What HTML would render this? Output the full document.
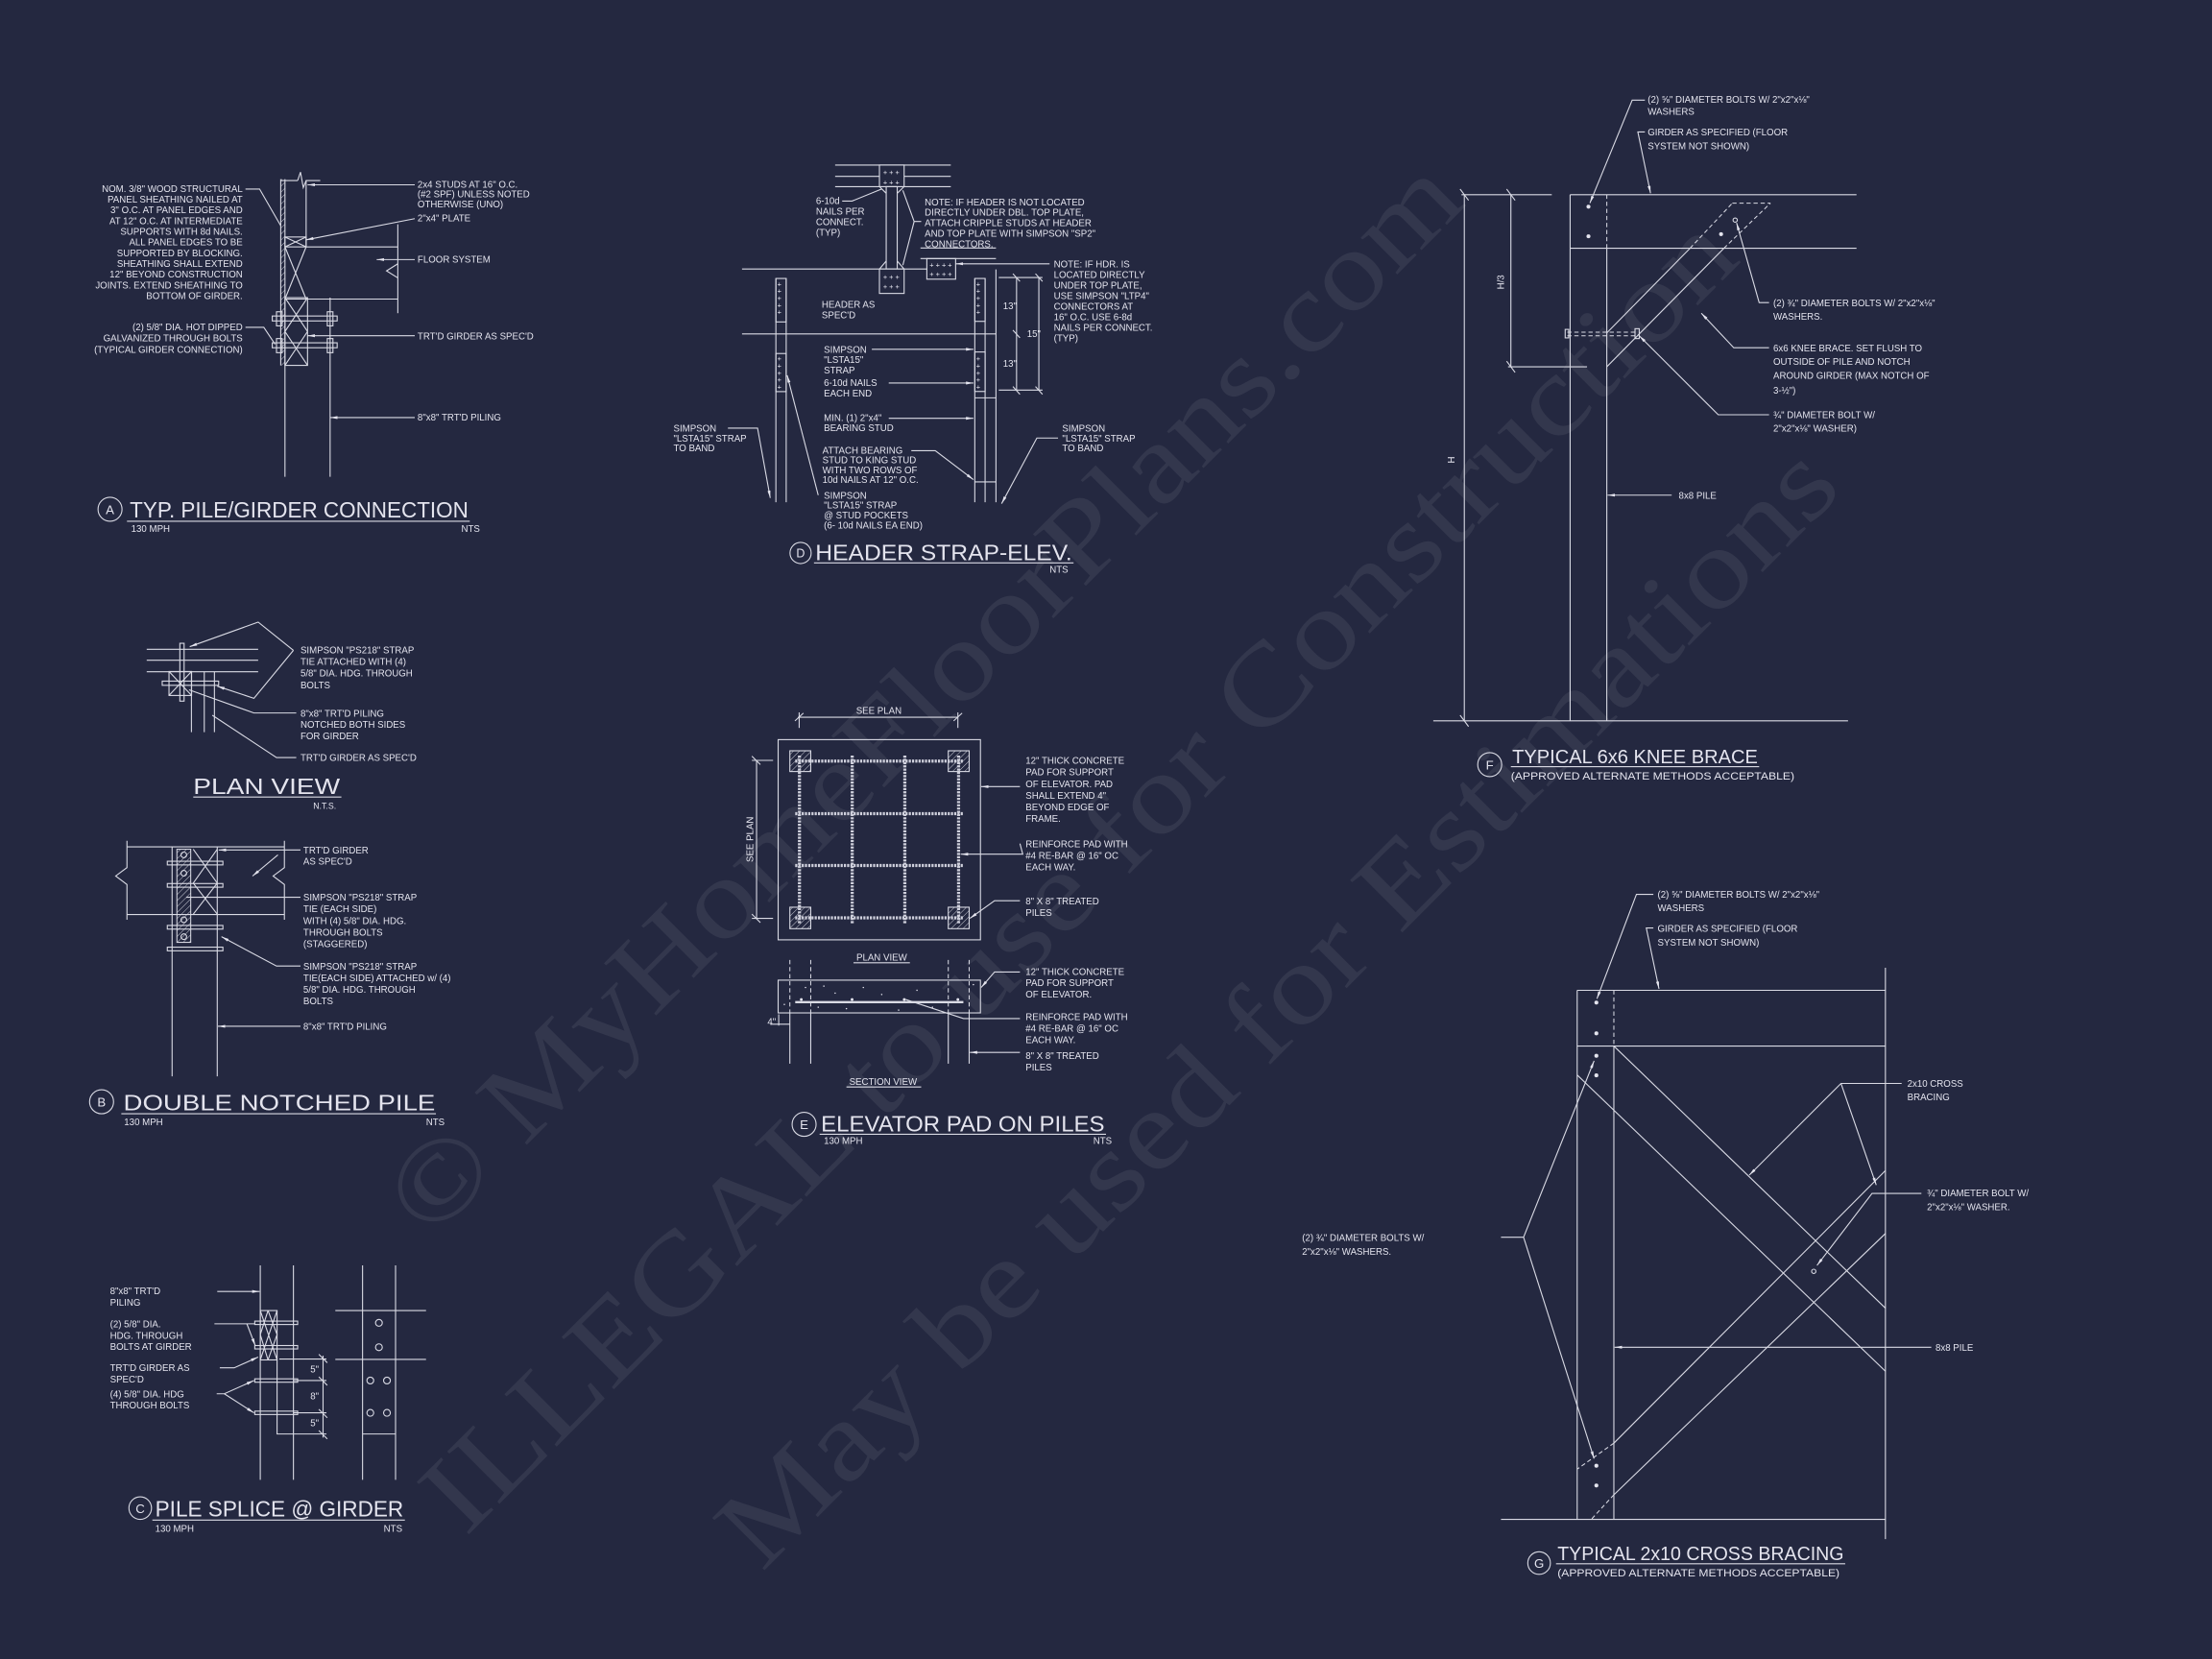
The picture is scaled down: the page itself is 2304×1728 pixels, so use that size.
<!DOCTYPE html>
<html><head><meta charset="utf-8">
<style>
html,body{margin:0;padding:0;background:#242840;}
svg{display:block;}
.l{stroke:#d9dae4;stroke-width:0.75;fill:none;}
.d{stroke:#d9dae4;stroke-width:0.7;fill:none;stroke-dasharray:3 2;}
.t{font-family:"Liberation Sans","DejaVu Sans",sans-serif;font-size:6.6px;fill:#e4e4ee;}
.T{font-family:"Liberation Sans","DejaVu Sans",sans-serif;font-size:16px;fill:#e4e4ee;font-weight:normal;}
.w{font-family:"Liberation Serif","DejaVu Serif",serif;font-size:80px;fill:#ffffff;fill-opacity:0.07;}
.dot{fill:#e4e4ee;}
</style></head>
<body>
<svg width="2304" height="1728" viewBox="0 0 1568 1176" xmlns="http://www.w3.org/2000/svg">
<defs>
<marker id="a" viewBox="0 0 10 10" refX="10" refY="5" markerWidth="7" markerHeight="7" orient="auto-start-reverse"><path d="M0,3 L10,5 L0,7 z" fill="#e4e4ee"/></marker>
<pattern id="h" width="3" height="3" patternUnits="userSpaceOnUse" patternTransform="rotate(45)"><line x1="0" y1="0" x2="0" y2="3" stroke="#d9dae4" stroke-width="0.6"/></pattern>
</defs>
<rect width="1568" height="1176" fill="#242840"/>

<!-- watermark -->
<text class="w" x="305" y="880" transform="rotate(-45 305 880)" textLength="1040" lengthAdjust="spacingAndGlyphs">© MyHomeFloorPlans.com</text>
<text class="w" x="330" y="1090" transform="rotate(-45 330 1090)" textLength="1280" lengthAdjust="spacingAndGlyphs">ILLEGAL to use for Construction</text>
<text class="w" x="540" y="1115" transform="rotate(-45 540 1115)" textLength="1085" lengthAdjust="spacingAndGlyphs">May be used for Estimations</text>

<!-- ===== DETAIL A ===== -->
<g>
<line class="l" x1="202" y1="127" x2="202" y2="338"/>
<line class="l" x1="234" y1="211" x2="234" y2="338"/>
<line class="l" x1="199" y1="127" x2="199" y2="259"/>
<rect x="199" y="127" width="3" height="132" fill="url(#h)"/>
<line class="l" x1="199" y1="128" x2="211" y2="128"/>
<path class="l" d="M211,128 L213,122 L215,133 L217,128 L227,128"/>
<line class="l" x1="217" y1="128" x2="217" y2="175"/>
<rect class="l" x="202" y="168" width="15" height="7"/>
<path class="l" d="M202,168 L217,175 M217,168 L202,175"/>
<line class="l" x1="217" y1="175" x2="282" y2="175"/>
<line class="l" x1="282" y1="159" x2="282" y2="222"/>
<path class="l" d="M282,187 L274,192 L282,197"/>
<line class="l" x1="202" y1="212" x2="282" y2="212"/>
<path class="l" d="M202,175 L217,212 M217,175 L202,212"/>
<rect class="l" x="202" y="211" width="16" height="48"/>
<path class="l" d="M202,211 L218,235 L202,259 M218,211 L202,235 L218,259"/>
<rect class="l" x="193" y="224" width="46" height="3.5"/>
<rect class="l" x="193" y="243" width="46" height="3.5"/>
<rect class="l" x="196" y="221" width="4" height="10"/><rect class="l" x="232" y="221" width="4" height="10"/>
<rect class="l" x="196" y="240" width="4" height="10"/><rect class="l" x="232" y="240" width="4" height="10"/>
<text class="t" text-anchor="end"><tspan x="172" y="136">NOM. 3/8" WOOD STRUCTURAL</tspan><tspan x="172" y="143.6">PANEL SHEATHING NAILED AT</tspan><tspan x="172" y="151.2">3" O.C. AT PANEL EDGES AND</tspan><tspan x="172" y="158.8">AT 12" O.C. AT INTERMEDIATE</tspan><tspan x="172" y="166.4">SUPPORTS WITH 8d NAILS.</tspan><tspan x="172" y="174">ALL PANEL EDGES TO BE</tspan><tspan x="172" y="181.6">SUPPORTED BY BLOCKING.</tspan><tspan x="172" y="189.2">SHEATHING SHALL EXTEND</tspan><tspan x="172" y="196.8">12" BEYOND CONSTRUCTION</tspan><tspan x="172" y="204.4">JOINTS. EXTEND SHEATHING TO</tspan><tspan x="172" y="212">BOTTOM OF GIRDER.</tspan></text>
<path class="l" d="M174,134 L184,134 L199,160"/>
<text class="t" text-anchor="end"><tspan x="172" y="234">(2) 5/8" DIA. HOT DIPPED</tspan><tspan x="172" y="242">GALVANIZED THROUGH BOLTS</tspan><tspan x="172" y="250">(TYPICAL GIRDER CONNECTION)</tspan></text>
<path class="l" d="M174,232 L187,232 L195,244"/>
<text class="t"><tspan x="296" y="133">2x4 STUDS AT 16" O.C.</tspan><tspan x="296" y="140">(#2 SPF) UNLESS NOTED</tspan><tspan x="296" y="147">OTHERWISE (UNO)</tspan><tspan x="296" y="157">2"x4" PLATE</tspan><tspan x="296" y="186">FLOOR SYSTEM</tspan><tspan x="296" y="240.5">TRT'D GIRDER AS SPEC'D</tspan><tspan x="296" y="298">8"x8" TRT'D PILING</tspan></text>
<line class="l" x1="294" y1="131" x2="218" y2="131" marker-end="url(#a)"/>
<path class="l" d="M294,155 L217,170" marker-end="url(#a)"/>
<line class="l" x1="294" y1="184" x2="267" y2="184" marker-end="url(#a)"/>
<line class="l" x1="294" y1="238" x2="218" y2="238" marker-end="url(#a)"/>
<line class="l" x1="294" y1="296" x2="234" y2="296" marker-end="url(#a)"/>
<circle class="l" cx="78" cy="361" r="8.5"/>
<text class="t" x="78" y="364.5" text-anchor="middle" style="font-size:9px">A</text>
<text class="T" x="92" y="367" textLength="240" lengthAdjust="spacingAndGlyphs">TYP. PILE/GIRDER CONNECTION</text>
<line class="l" x1="90" y1="369.5" x2="333" y2="369.5"/>
<text class="t" x="93" y="377">130 MPH</text><text class="t" x="327" y="377">NTS</text>
</g>

<!-- ===== DETAIL B ===== -->
<g>
<line class="l" x1="104" y1="460.3" x2="183" y2="460.3"/>
<line class="l" x1="104" y1="468" x2="183" y2="468"/>
<line class="l" x1="104" y1="476.2" x2="183" y2="476.2"/>
<rect class="l" x="127.5" y="456" width="3" height="41"/>
<rect class="l" x="115" y="482.8" width="40" height="3"/>
<rect class="l" x="119.8" y="476" width="16" height="17"/>
<path class="l" d="M119.8,476 L135.8,493 M135.8,476 L119.8,493"/>
<line class="l" x1="135.7" y1="476" x2="135.7" y2="519"/>
<line class="l" x1="144.8" y1="476" x2="144.8" y2="519"/>
<line class="l" x1="152" y1="476" x2="152" y2="519"/>
<path class="l" d="M208,461 L183,441 L134.5,458.4" marker-end="url(#a)"/>
<path class="l" d="M208,461 L180,495 L154,486.4" marker-end="url(#a)"/>
<text class="t"><tspan x="213" y="463">SIMPSON "PS218" STRAP</tspan><tspan x="213" y="471.3">TIE ATTACHED WITH (4)</tspan><tspan x="213" y="479.6">5/8" DIA. HDG. THROUGH</tspan><tspan x="213" y="487.9">BOLTS</tspan></text>
<text class="t"><tspan x="213" y="508">8"x8" TRT'D PILING</tspan><tspan x="213" y="516">NOTCHED BOTH SIDES</tspan><tspan x="213" y="524">FOR GIRDER</tspan><tspan x="213" y="539.5">TRT'D GIRDER AS SPEC'D</tspan></text>
<path class="l" d="M210,505.4 L180,505.4 L134,489"/>
<path class="l" d="M210,537 L196,537 L150.5,507"/>
<text class="T" x="137" y="563" textLength="104" lengthAdjust="spacingAndGlyphs">PLAN VIEW</text>
<line class="l" x1="137" y1="565" x2="242" y2="565"/>
<text class="t" x="222" y="573.5" style="font-size:6px">N.T.S.</text>

<line class="l" x1="90" y1="600.3" x2="201.6" y2="600.3"/>
<line class="l" x1="90" y1="648.3" x2="201.6" y2="648.3"/>
<path class="l" d="M90,596 L90,615 L82,621 L90,627 L90,652"/>
<path class="l" d="M201.6,596 L201.6,615 L193.6,621 L201.6,627 L201.6,652"/>
<line class="l" x1="122" y1="600" x2="122" y2="763"/>
<line class="l" x1="154" y1="600" x2="154" y2="763"/>
<path class="l" d="M137,602 L154,626 L137,648 M154,602 L137,626 L154,648"/>
<rect x="125.4" y="602" width="9.8" height="66" fill="url(#h)" stroke="#d9dae4" stroke-width="0.7"/>
<circle class="l" cx="130.3" cy="606" r="2"/><circle class="l" cx="130.3" cy="619" r="2"/><circle class="l" cx="130.3" cy="652" r="2"/><circle class="l" cx="130.3" cy="664" r="2"/>
<rect class="l" x="118.6" y="610.5" width="39.4" height="2.6"/>
<rect class="l" x="118.6" y="626.3" width="39.4" height="2.6"/>
<rect class="l" x="118.6" y="656" width="39.4" height="2.6"/>
<rect class="l" x="118.6" y="671.4" width="39.4" height="2.6"/>
<text class="t"><tspan x="215" y="605">TRT'D GIRDER</tspan><tspan x="215" y="613">AS SPEC'D</tspan></text>
<line class="l" x1="213" y1="602.5" x2="155" y2="602.5" marker-end="url(#a)"/>
<line class="l" x1="197" y1="606" x2="179" y2="621" marker-end="url(#a)"/>
<text class="t"><tspan x="215" y="638.5">SIMPSON "PS218" STRAP</tspan><tspan x="215" y="646.7">TIE (EACH SIDE)</tspan><tspan x="215" y="654.9">WITH (4) 5/8" DIA. HDG.</tspan><tspan x="215" y="663.1">THROUGH BOLTS</tspan><tspan x="215" y="671.3">(STAGGERED)</tspan></text>
<line class="l" x1="213" y1="636" x2="132" y2="636"/>
<text class="t"><tspan x="215" y="687.3">SIMPSON "PS218" STRAP</tspan><tspan x="215" y="695.5">TIE(EACH SIDE) ATTACHED w/ (4)</tspan><tspan x="215" y="703.7">5/8" DIA. HDG. THROUGH</tspan><tspan x="215" y="711.9">BOLTS</tspan></text>
<path class="l" d="M213,684.8 L196,684.8 L157,664" marker-end="url(#a)"/>
<text class="t" x="215" y="730">8"x8" TRT'D PILING</text>
<line class="l" x1="213" y1="727.5" x2="154.5" y2="727.5" marker-end="url(#a)"/>
<circle class="l" cx="72" cy="781" r="8.5"/>
<text class="t" x="72" y="784.5" text-anchor="middle" style="font-size:9px">B</text>
<text class="T" x="87.5" y="787" textLength="221" lengthAdjust="spacingAndGlyphs">DOUBLE NOTCHED PILE</text>
<line class="l" x1="86" y1="789.5" x2="309" y2="789.5"/>
<text class="t" x="88" y="797.5">130 MPH</text><text class="t" x="302" y="797.5">NTS</text>
</g>

<!-- ===== DETAIL C ===== -->
<g>
<line class="l" x1="184.5" y1="897" x2="184.5" y2="1049"/>
<line class="l" x1="208" y1="897" x2="208" y2="1049"/>
<line class="l" x1="257" y1="897" x2="257" y2="1049"/>
<line class="l" x1="280.4" y1="897" x2="280.4" y2="1049"/>
<rect class="l" x="184.5" y="929" width="11.9" height="35"/>
<path class="l" d="M184.5,929 L196.4,964 M196.4,929 L184.5,964 M190,929 L196.4,946 L190,964 M190,929 L184.5,946 L190,964"/>
<path class="l" d="M196.4,964 L196.4,1016.5 L231.4,1016.5"/>
<line class="l" x1="198" y1="963.4" x2="231.4" y2="963.4"/>
<line class="l" x1="208" y1="978.6" x2="231.4" y2="978.6"/>
<line class="l" x1="208" y1="1001.5" x2="231.4" y2="1001.5"/>
<line class="l" x1="229" y1="961" x2="229" y2="1019"/>
<path class="l" d="M226,960 L232,966 M226,976 L232,982 M226,999 L232,1005 M226,1014 L232,1020"/>
<g>
<rect class="l" x="180.6" y="936.5" width="30.4" height="2.4"/>
<rect class="l" x="180.6" y="953.8" width="30.4" height="2.4"/>
<rect class="l" x="180.6" y="977.4" width="30.4" height="2.4"/>
<rect class="l" x="180.6" y="1000.3" width="30.4" height="2.4"/>
</g>
<text class="t"><tspan x="220" y="973">5"</tspan><tspan x="220" y="992">8"</tspan><tspan x="220" y="1011">5"</tspan></text>
<line class="l" x1="237.7" y1="929" x2="302" y2="929"/>
<line class="l" x1="237.7" y1="963.6" x2="302" y2="963.6"/>
<line class="l" x1="257" y1="1016.5" x2="280.4" y2="1016.5"/>
<circle class="l" cx="268.6" cy="937.7" r="2.4"/><circle class="l" cx="268.6" cy="955" r="2.4"/>
<circle class="l" cx="262.5" cy="978.6" r="2.4"/><circle class="l" cx="274.3" cy="978.6" r="2.4"/>
<circle class="l" cx="262.5" cy="1001.5" r="2.4"/><circle class="l" cx="274.3" cy="1001.5" r="2.4"/>
<text class="t"><tspan x="78" y="917.5">8"x8" TRT'D</tspan><tspan x="78" y="925.5">PILING</tspan></text>
<line class="l" x1="154" y1="915.5" x2="184" y2="915.5" marker-end="url(#a)"/>
<text class="t"><tspan x="78" y="941">(2) 5/8" DIA.</tspan><tspan x="78" y="949">HDG. THROUGH</tspan><tspan x="78" y="957">BOLTS AT GIRDER</tspan></text>
<path class="l" d="M152,938.4 L175,938.4 L180.6,938.4"/>
<path class="l" d="M175,938.4 L181,954" marker-end="url(#a)"/>
<text class="t"><tspan x="78" y="972">TRT'D GIRDER AS</tspan><tspan x="78" y="980">SPEC'D</tspan></text>
<path class="l" d="M155.8,969.6 L166,969.6 L183,962" marker-end="url(#a)"/>
<text class="t"><tspan x="78" y="990.5">(4) 5/8" DIA. HDG</tspan><tspan x="78" y="998.5">THROUGH BOLTS</tspan></text>
<path class="l" d="M153.6,988 L159,988 L180,978.6" marker-end="url(#a)"/>
<path class="l" d="M159,988 L180,1001.5" marker-end="url(#a)"/>
<circle class="l" cx="99.4" cy="1069" r="8"/>
<text class="t" x="99.4" y="1072.5" text-anchor="middle" style="font-size:9px">C</text>
<text class="T" x="110" y="1075" textLength="176" lengthAdjust="spacingAndGlyphs">PILE SPLICE @ GIRDER</text>
<line class="l" x1="108" y1="1077.5" x2="287" y2="1077.5"/>
<text class="t" x="110" y="1086">130 MPH</text><text class="t" x="272" y="1086">NTS</text>
</g>

<!-- ===== DETAIL D ===== -->
<g>
<line class="l" x1="592" y1="117" x2="674" y2="117"/>
<line class="l" x1="592" y1="125" x2="674" y2="125"/>
<line class="l" x1="592" y1="132.3" x2="674" y2="132.3"/>
<rect x="623.4" y="117" width="17.5" height="15.3" fill="#242840" stroke="#d9dae4" stroke-width="0.75"/>
<text class="t" x="626" y="124" style="font-size:5px">+ + +</text><text class="t" x="626" y="131" style="font-size:5px">+ + +</text>
<rect class="l" x="628.2" y="132.3" width="7.8" height="58.4"/>
<path class="l" d="M623.4,132.3 L628.2,137 M640.9,132.3 L636,137 M623.4,190.7 L628.2,185 M640.9,190.7 L636,185"/>
<line class="l" x1="526" y1="190.7" x2="657.4" y2="190.7"/>
<rect x="623.4" y="190.7" width="17.5" height="17.3" fill="#242840" stroke="#d9dae4" stroke-width="0.75"/>
<text class="t" x="626" y="198" style="font-size:5px">+ + +</text><text class="t" x="626" y="205" style="font-size:5px">+ + +</text>
<rect class="l" x="657" y="183.3" width="20.4" height="14.6"/>
<text class="t" x="659" y="189.5" style="font-size:5px">+ + + +</text><text class="t" x="659" y="196" style="font-size:5px">+ + + +</text>
<line class="l" x1="652.5" y1="175.8" x2="706" y2="175.8"/>
<line class="l" x1="652.5" y1="183.3" x2="706" y2="183.3"/>
<line class="l" x1="526" y1="236.7" x2="706" y2="236.7"/>
<line class="l" x1="550" y1="197.4" x2="550" y2="356"/>
<line class="l" x1="557.3" y1="197.4" x2="557.3" y2="356"/>
<rect class="l" x="550" y="197.4" width="7.3" height="30.8"/>
<rect class="l" x="550" y="250.6" width="7.3" height="27"/>
<text class="t" style="font-size:5px"><tspan x="551" y="203">+</tspan><tspan x="551" y="208">+</tspan><tspan x="551" y="213">+</tspan><tspan x="551" y="218">+</tspan><tspan x="551" y="223">+</tspan><tspan x="551" y="256">+</tspan><tspan x="551" y="261">+</tspan><tspan x="551" y="266">+</tspan><tspan x="551" y="271">+</tspan><tspan x="551" y="276">+</tspan></text>
<line class="l" x1="691" y1="197.4" x2="691" y2="356"/>
<line class="l" x1="698.3" y1="197.4" x2="698.3" y2="356"/>
<line class="l" x1="706" y1="191" x2="706" y2="356"/>
<line class="l" x1="691" y1="282" x2="706" y2="282"/>
<line class="l" x1="691" y1="341.6" x2="706" y2="341.6"/>
<rect class="l" x="691" y="197.4" width="7.3" height="30.4"/>
<rect class="l" x="691" y="249.5" width="7.3" height="28"/>
<text class="t" style="font-size:5px"><tspan x="692" y="203">+</tspan><tspan x="692" y="208">+</tspan><tspan x="692" y="213">+</tspan><tspan x="692" y="218">+</tspan><tspan x="692" y="223">+</tspan><tspan x="692" y="256">+</tspan><tspan x="692" y="261">+</tspan><tspan x="692" y="266">+</tspan><tspan x="692" y="271">+</tspan><tspan x="692" y="276">+</tspan></text>
<line class="l" x1="720.6" y1="196.7" x2="720.6" y2="276.5"/>
<line class="l" x1="736.4" y1="196.7" x2="736.4" y2="276.5"/>
<line class="l" x1="708" y1="196.7" x2="739" y2="196.7"/>
<line class="l" x1="708" y1="276.5" x2="739" y2="276.5"/>
<path class="l" d="M718,194 L723,199.5 M734,194 L739,199.5 M718,234 L723,239.5 M718,274 L723,279.5 M734,274 L739,279.5"/>
<text class="t"><tspan x="711" y="219">13"</tspan><tspan x="728" y="239">15"</tspan><tspan x="711" y="260">13"</tspan></text>
<text class="t"><tspan x="578.4" y="144.5">6-10d</tspan><tspan x="578.4" y="152">NAILS PER</tspan><tspan x="578.4" y="159.5">CONNECT.</tspan><tspan x="578.4" y="167">(TYP)</tspan></text>
<path class="l" d="M597,142.5 L604,142.5 L625,134"/>
<text class="t"><tspan x="655.5" y="145.5">NOTE: IF HEADER IS NOT LOCATED</tspan><tspan x="655.5" y="152.9">DIRECTLY UNDER DBL. TOP PLATE,</tspan><tspan x="655.5" y="160.3">ATTACH CRIPPLE STUDS AT HEADER</tspan><tspan x="655.5" y="167.7">AND TOP PLATE WITH SIMPSON "SP2"</tspan><tspan x="655.5" y="175.1">CONNECTORS.</tspan></text>
<path class="l" d="M653,157 L648,157 L640,135 M648,157 L640,188"/>
<text class="t"><tspan x="747" y="189.5">NOTE: IF HDR. IS</tspan><tspan x="747" y="197">LOCATED DIRECTLY</tspan><tspan x="747" y="204.5">UNDER TOP PLATE,</tspan><tspan x="747" y="212">USE SIMPSON "LTP4"</tspan><tspan x="747" y="219.5">CONNECTORS AT</tspan><tspan x="747" y="227">16" O.C.  USE 6-8d</tspan><tspan x="747" y="234.5">NAILS PER CONNECT.</tspan><tspan x="747" y="242">(TYP)</tspan></text>
<line class="l" x1="744" y1="187" x2="677.5" y2="187" marker-end="url(#a)"/>
<text class="t"><tspan x="582.5" y="218">HEADER AS</tspan><tspan x="582.5" y="225.5">SPEC'D</tspan></text>
<text class="t"><tspan x="584" y="250">SIMPSON</tspan><tspan x="584" y="257.3">"LSTA15"</tspan><tspan x="584" y="264.6">STRAP</tspan></text>
<line class="l" x1="618" y1="247.6" x2="690" y2="247.6" marker-end="url(#a)"/>
<text class="t"><tspan x="584" y="273.5">6-10d NAILS</tspan><tspan x="584" y="281">EACH END</tspan></text>
<line class="l" x1="630" y1="271.5" x2="690" y2="271.5" marker-end="url(#a)"/>
<text class="t"><tspan x="584" y="298.5">MIN. (1) 2"x4"</tspan><tspan x="584" y="305.5">BEARING STUD</tspan></text>
<line class="l" x1="630" y1="296.5" x2="690" y2="296.5" marker-end="url(#a)"/>
<text class="t"><tspan x="583" y="321.5">ATTACH BEARING</tspan><tspan x="583" y="328.5">STUD TO KING STUD</tspan><tspan x="583" y="335.5">WITH TWO ROWS OF</tspan><tspan x="583" y="342.5">10d NAILS AT 12" O.C.</tspan></text>
<path class="l" d="M646,319.5 L663,319.5 L690,340" marker-end="url(#a)"/>
<text class="t"><tspan x="584" y="353.5">SIMPSON</tspan><tspan x="584" y="360.5">"LSTA15" STRAP</tspan><tspan x="584" y="367.5">@ STUD POCKETS</tspan><tspan x="584" y="374.5">(6- 10d NAILS EA END)</tspan></text>
<line class="l" x1="580" y1="351" x2="558" y2="266" marker-end="url(#a)"/>
<text class="t"><tspan x="477.4" y="306">SIMPSON</tspan><tspan x="477.4" y="313">"LSTA15" STRAP</tspan><tspan x="477.4" y="320">TO BAND</tspan></text>
<path class="l" d="M516,303.5 L537,303.5 L546,353" marker-end="url(#a)"/>
<text class="t"><tspan x="753" y="306">SIMPSON</tspan><tspan x="753" y="313">"LSTA15" STRAP</tspan><tspan x="753" y="320">TO BAND</tspan></text>
<path class="l" d="M750,310.5 L735,310.5 L710,357" marker-end="url(#a)"/>
<circle class="l" cx="567.5" cy="392" r="7.5"/>
<text class="t" x="567.5" y="395" text-anchor="middle" style="font-size:8.5px">D</text>
<text class="T" x="578" y="397" textLength="182" lengthAdjust="spacingAndGlyphs">HEADER STRAP-ELEV.</text>
<line class="l" x1="577" y1="399" x2="761" y2="399"/>
<text class="t" x="744" y="406">NTS</text>
</g>

<!-- ===== DETAIL E ===== -->
<g>
<rect class="l" x="551.6" y="524.3" width="143.4" height="141.9"/>
<rect x="559.9" y="532.2" width="14.8" height="14.7" fill="url(#h)" stroke="#d9dae4" stroke-width="0.75"/>
<rect x="672.2" y="532.2" width="14.8" height="14.7" fill="url(#h)" stroke="#d9dae4" stroke-width="0.75"/>
<rect x="559.9" y="643.1" width="14.8" height="15.2" fill="url(#h)" stroke="#d9dae4" stroke-width="0.75"/>
<rect x="672.2" y="643.1" width="14.8" height="15.2" fill="url(#h)" stroke="#d9dae4" stroke-width="0.75"/>
<g stroke="#cfd0dc" stroke-width="2.2" stroke-dasharray="1.5 0.8">
<line x1="563.7" y1="539.5" x2="682.9" y2="539.5"/>
<line x1="563.7" y1="576.8" x2="682.9" y2="576.8"/>
<line x1="563.7" y1="613.5" x2="682.9" y2="613.5"/>
<line x1="563.7" y1="650.6" x2="682.9" y2="650.6"/>
<line x1="566.7" y1="535.6" x2="566.7" y2="654.5"/>
<line x1="604.1" y1="535.6" x2="604.1" y2="654.5"/>
<line x1="641.4" y1="535.6" x2="641.4" y2="654.5"/>
<line x1="679.5" y1="535.6" x2="679.5" y2="654.5"/>
</g>
<line class="l" x1="565.6" y1="508.4" x2="679" y2="508.4"/>
<line class="l" x1="566.5" y1="505" x2="566.5" y2="516"/><line class="l" x1="679" y1="505" x2="679" y2="516"/>
<path class="l" d="M563.5,511 L569.5,505.5 M676,511 L682,505.5"/>
<text class="t" x="623" y="506" text-anchor="middle">SEE PLAN</text>
<line class="l" x1="536.3" y1="539" x2="536.3" y2="651"/>
<line class="l" x1="533" y1="539" x2="548" y2="539"/><line class="l" x1="533" y1="651" x2="548" y2="651"/>
<path class="l" d="M533,536 L539,542 M533,648 L539,654"/>
<text class="t" x="534" y="595" text-anchor="middle" transform="rotate(-90 534 595)">SEE PLAN</text>
<text class="t"><tspan x="727" y="541.5">12" THICK CONCRETE</tspan><tspan x="727" y="549.7">PAD FOR SUPPORT</tspan><tspan x="727" y="557.9">OF ELEVATOR. PAD</tspan><tspan x="727" y="566.1">SHALL EXTEND 4"</tspan><tspan x="727" y="574.3">BEYOND EDGE OF</tspan><tspan x="727" y="582.5">FRAME.</tspan></text>
<line class="l" x1="723" y1="557.6" x2="695.5" y2="557.6" marker-end="url(#a)"/>
<text class="t"><tspan x="727" y="600.5">REINFORCE PAD WITH</tspan><tspan x="727" y="608.7">#4 RE-BAR @ 16" OC</tspan><tspan x="727" y="616.9">EACH WAY.</tspan></text>
<path class="l" d="M723,598 L725,605.5 L681,605.5" marker-end="url(#a)"/>
<text class="t"><tspan x="727" y="641">8" X 8" TREATED</tspan><tspan x="727" y="649.2">PILES</tspan></text>
<path class="l" d="M723,638.5 L705,638.5 L687.5,651" marker-end="url(#a)"/>
<text class="t" x="625" y="681" text-anchor="middle">PLAN VIEW</text>
<line class="l" x1="605" y1="682.5" x2="645" y2="682.5"/>
<rect class="l" x="551.6" y="694.8" width="143.4" height="23.2"/>
<line class="d" x1="559.9" y1="680.5" x2="559.9" y2="718"/><line class="d" x1="574.7" y1="680.5" x2="574.7" y2="718"/>
<line class="d" x1="672.2" y1="680.5" x2="672.2" y2="718"/><line class="d" x1="687" y1="680.5" x2="687" y2="718"/>
<line class="l" x1="559.9" y1="718" x2="559.9" y2="754"/><line class="l" x1="574.7" y1="718" x2="574.7" y2="754"/>
<line class="l" x1="672.2" y1="718" x2="672.2" y2="754"/><line class="l" x1="687" y1="718" x2="687" y2="754"/>
<line x1="563.7" y1="710.4" x2="682.9" y2="710.4" stroke="#d9dae4" stroke-width="1.6"/>
<g class="dot"><circle cx="568" cy="708.5" r="1"/><circle cx="604" cy="708.5" r="1"/><circle cx="641" cy="708.5" r="1"/><circle cx="679" cy="708.5" r="1"/>
<circle cx="571" cy="700" r="0.5"/><circle cx="584" cy="699" r="0.5"/><circle cx="592" cy="704" r="0.5"/><circle cx="612" cy="700" r="0.5"/><circle cx="625" cy="705" r="0.5"/><circle cx="650" cy="702" r="0.5"/><circle cx="661" cy="714" r="0.5"/><circle cx="580" cy="714" r="0.5"/><circle cx="600" cy="715" r="0.5"/><circle cx="637" cy="716" r="0.5"/><circle cx="556" cy="712" r="0.5"/><circle cx="690" cy="698" r="0.5"/></g>
<line class="l" x1="552" y1="719" x2="552" y2="727"/>
<line class="l" x1="546" y1="726" x2="560" y2="726"/>
<text class="t" x="544" y="726.5">4"</text>
<text class="t"><tspan x="727" y="691">12" THICK CONCRETE</tspan><tspan x="727" y="699">PAD FOR SUPPORT</tspan><tspan x="727" y="707">OF ELEVATOR.</tspan></text>
<path class="l" d="M723,689 L705,689 L695.5,700" marker-end="url(#a)"/>
<text class="t"><tspan x="727" y="723">REINFORCE PAD WITH</tspan><tspan x="727" y="731.3">#4 RE-BAR @ 16" OC</tspan><tspan x="727" y="739.6">EACH WAY.</tspan></text>
<path class="l" d="M723,722 L683,722 L642,708.5"/>
<text class="t"><tspan x="727" y="750.5">8" X 8" TREATED</tspan><tspan x="727" y="758.8">PILES</tspan></text>
<line class="l" x1="723" y1="746" x2="687.5" y2="746" marker-end="url(#a)"/>
<text class="t" x="626" y="769" text-anchor="middle">SECTION VIEW</text>
<line class="l" x1="600" y1="770.5" x2="653" y2="770.5"/>
<circle class="l" cx="570" cy="797" r="8.5"/>
<text class="t" x="570" y="800.5" text-anchor="middle" style="font-size:9px">E</text>
<text class="T" x="582" y="802" textLength="201" lengthAdjust="spacingAndGlyphs">ELEVATOR PAD ON PILES</text>
<line class="l" x1="581" y1="804" x2="784" y2="804"/>
<text class="t" x="584" y="811">130 MPH</text><text class="t" x="775" y="811">NTS</text>
</g>

<!-- ===== DETAIL F ===== -->
<g>
<line class="l" x1="1113" y1="138" x2="1113" y2="511"/>
<line class="l" x1="1139" y1="176" x2="1139" y2="511"/>
<line class="d" x1="1139" y1="138" x2="1139" y2="176"/>
<line class="l" x1="1113" y1="138" x2="1316" y2="138"/>
<line class="l" x1="1113" y1="176" x2="1316" y2="176"/>
<line class="l" x1="1016" y1="511" x2="1310" y2="511"/>
<line class="l" x1="1038" y1="138" x2="1038" y2="511"/>
<line class="l" x1="1071" y1="138" x2="1071" y2="260"/>
<line class="l" x1="1036" y1="138" x2="1100" y2="138"/>
<line class="l" x1="1069" y1="260" x2="1125" y2="260"/>
<path class="l" d="M1035,134 L1041,142 M1068,134 L1074,142 M1068,256 L1074,264 M1035,507 L1041,515"/>
<text class="t" x="1066" y="200" text-anchor="middle" transform="rotate(-90 1066 200)">H/3</text>
<text class="t" x="1031" y="326" text-anchor="middle" transform="rotate(-90 1031 326)">H</text>
<line class="l" x1="1139" y1="236" x2="1198" y2="176"/>
<line class="d" x1="1198" y1="176" x2="1228" y2="144"/>
<line class="l" x1="1139" y1="260" x2="1222" y2="176"/>
<line class="d" x1="1222" y1="176" x2="1255" y2="144"/>
<line class="d" x1="1228" y1="144" x2="1255" y2="144"/>
<line class="d" x1="1111" y1="235.5" x2="1160" y2="235.5"/>
<line class="d" x1="1111" y1="238" x2="1160" y2="238"/>
<rect class="l" x="1109.5" y="233.5" width="2.5" height="6"/>
<rect class="l" x="1159" y="233" width="3" height="7"/>
<g class="dot"><circle cx="1126" cy="146.5" r="1.4"/><circle cx="1126" cy="167.5" r="1.4"/><circle cx="1220" cy="166" r="1.4"/></g>
<circle class="l" cx="1230" cy="156" r="1.5"/>
<text class="t"><tspan x="1168" y="73">(2) ⅝" DIAMETER BOLTS W/ 2"x2"x⅛"</tspan><tspan x="1168" y="81.5">WASHERS</tspan></text>
<path class="l" d="M1166,71 L1157,71 L1127,144" marker-end="url(#a)"/>
<text class="t"><tspan x="1168" y="96">GIRDER AS SPECIFIED (FLOOR</tspan><tspan x="1168" y="106">SYSTEM NOT SHOWN)</tspan></text>
<path class="l" d="M1166,93.5 L1161,93.5 L1170,137" marker-end="url(#a)"/>
<text class="t"><tspan x="1257" y="217">(2) ¾" DIAMETER BOLTS W/ 2"x2"x⅛"</tspan><tspan x="1257" y="226.5">WASHERS.</tspan></text>
<path class="l" d="M1254,214.5 L1247,214.5 L1231,158" marker-end="url(#a)"/>
<text class="t"><tspan x="1257" y="249">6x6 KNEE BRACE. SET FLUSH TO</tspan><tspan x="1257" y="258.5">OUTSIDE OF PILE AND NOTCH</tspan><tspan x="1257" y="268.5">AROUND GIRDER (MAX NOTCH OF</tspan><tspan x="1257" y="279">3-½")</tspan></text>
<path class="l" d="M1254,246.5 L1229,246.5 L1206,222" marker-end="url(#a)"/>
<text class="t"><tspan x="1257" y="296.5">¾" DIAMETER BOLT W/</tspan><tspan x="1257" y="306">2"x2"x⅛" WASHER)</tspan></text>
<path class="l" d="M1254,294 L1218,294 L1162,238" marker-end="url(#a)"/>
<text class="t" x="1190" y="353.5">8x8 PILE</text>
<line class="l" x1="1185" y1="351" x2="1139.5" y2="351" marker-end="url(#a)"/>
<circle class="l" cx="1056" cy="542" r="8.5"/>
<text class="t" x="1056" y="545.5" text-anchor="middle" style="font-size:9px">F</text>
<text class="T" x="1072" y="541" textLength="174" lengthAdjust="spacingAndGlyphs" style="font-size:14px">TYPICAL 6x6 KNEE BRACE</text>
<line class="l" x1="1071" y1="543.5" x2="1247" y2="543.5"/>
<text class="t" x="1071" y="552.5" textLength="201" lengthAdjust="spacingAndGlyphs" style="font-size:7.5px">(APPROVED ALTERNATE METHODS ACCEPTABLE)</text>
</g>

<!-- ===== DETAIL G ===== -->
<g>
<line class="l" x1="1118" y1="702" x2="1118" y2="1077"/>
<line class="l" x1="1144" y1="741.5" x2="1144" y2="1077"/>
<line class="d" x1="1144" y1="702" x2="1144" y2="741.5"/>
<line class="l" x1="1118" y1="702" x2="1336.5" y2="702"/>
<line class="l" x1="1118" y1="741.5" x2="1336.5" y2="741.5"/>
<line class="l" x1="1336.5" y1="686" x2="1336.5" y2="1091"/>
<line class="l" x1="1064" y1="1077" x2="1336.5" y2="1077"/>
<line class="l" x1="1144" y1="741.5" x2="1336.5" y2="927.3"/>
<line class="l" x1="1118" y1="762" x2="1336.5" y2="972"/>
<line class="l" x1="1336.5" y1="829.8" x2="1144" y2="1023"/>
<line class="d" x1="1144" y1="1023" x2="1118" y2="1041.4"/>
<line class="l" x1="1336.5" y1="874.4" x2="1144" y2="1059.6"/>
<line class="d" x1="1144" y1="1059.6" x2="1128" y2="1077"/>
<g class="dot"><circle cx="1131.6" cy="710.7" r="1.4"/><circle cx="1131.6" cy="732.5" r="1.4"/><circle cx="1131.6" cy="748.4" r="1.4"/><circle cx="1131.6" cy="762.3" r="1.4"/><circle cx="1131.6" cy="1039" r="1.4"/><circle cx="1131.6" cy="1053" r="1.4"/></g>
<circle class="l" cx="1285.7" cy="901.2" r="1.5"/>
<text class="t"><tspan x="1175" y="636.5">(2) ⅝" DIAMETER BOLTS W/ 2"x2"x⅛"</tspan><tspan x="1175" y="646">WASHERS</tspan></text>
<path class="l" d="M1172,634 L1160,634 L1132,708" marker-end="url(#a)"/>
<text class="t"><tspan x="1175" y="660.5">GIRDER AS SPECIFIED (FLOOR</tspan><tspan x="1175" y="670.5">SYSTEM NOT SHOWN)</tspan></text>
<path class="l" d="M1172,657.8 L1167,657.8 L1176,701" marker-end="url(#a)"/>
<text class="t"><tspan x="1352" y="770.5">2x10 CROSS</tspan><tspan x="1352" y="780">BRACING</tspan></text>
<path class="l" d="M1348,768 L1305,768 L1240,833" marker-end="url(#a)"/>
<path class="l" d="M1305,768 L1330,840" marker-end="url(#a)"/>
<text class="t"><tspan x="1366" y="848">¾" DIAMETER BOLT W/</tspan><tspan x="1366" y="858">2"x2"x⅛" WASHER.</tspan></text>
<path class="l" d="M1362,846 L1327,846 L1288,897" marker-end="url(#a)"/>
<text class="t"><tspan x="923" y="879.5">(2) ¾" DIAMETER BOLTS W/</tspan><tspan x="923" y="889.5">2"x2"x⅛" WASHERS.</tspan></text>
<path class="l" d="M1064,877 L1080,877 L1130,752" marker-end="url(#a)"/>
<path class="l" d="M1080,877 L1130,1034" marker-end="url(#a)"/>
<text class="t" x="1372" y="957.5">8x8 PILE</text>
<line class="l" x1="1369" y1="955" x2="1144.5" y2="955" marker-end="url(#a)"/>
<circle class="l" cx="1091" cy="1108" r="8"/>
<text class="t" x="1091" y="1111.5" text-anchor="middle" style="font-size:9px">G</text>
<text class="T" x="1104" y="1106" textLength="203" lengthAdjust="spacingAndGlyphs" style="font-size:14px">TYPICAL 2x10 CROSS BRACING</text>
<line class="l" x1="1103" y1="1108.5" x2="1308" y2="1108.5"/>
<text class="t" x="1104" y="1117.5" textLength="200" lengthAdjust="spacingAndGlyphs" style="font-size:7.5px">(APPROVED ALTERNATE METHODS ACCEPTABLE)</text>
</g>
</svg>
</body></html>
